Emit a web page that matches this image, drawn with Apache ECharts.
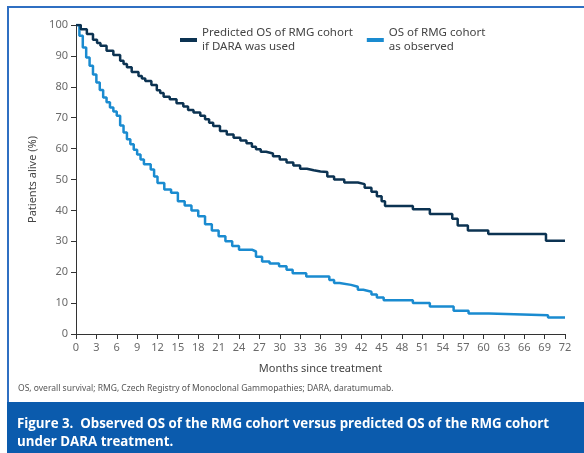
<!DOCTYPE html>
<html>
<head>
<meta charset="utf-8">
<script src="https://cdn.jsdelivr.net/npm/echarts@6/dist/echarts.min.js"></script>
<style>
  html, body { margin: 0; padding: 0; background: #fff; }
  #chart { width: 584px; height: 453px; }
</style>
</head>
<body>
<div id="chart"></div>
<script>
// Survival curves: [month, % alive after the event at that month]
const predictedOS = [
  [0, 100], [0.7, 98.6], [1.6, 97.1], [2.5, 95.2], [3.1, 94.2], [3.6, 93.3],
  [4.5, 91.7], [5.5, 90.3], [6.5, 88.4], [7.0, 87.4], [7.5, 86.3], [8.2, 84.8],
  [9.2, 83.5], [9.7, 82.7], [10.2, 81.9], [11.1, 80.6], [11.9, 78.9], [12.4, 78.0],
  [12.9, 76.8], [13.8, 76.0], [14.8, 74.7], [15.8, 73.6], [16.5, 72.5],
  [17.3, 71.7], [18.3, 70.6], [19.0, 69.5], [19.6, 68.4], [20.2, 67.3],
  [21.2, 65.7], [22.2, 64.6], [23.2, 63.5], [24.2, 62.6], [25.1, 61.7],
  [25.9, 60.6], [26.5, 59.8], [27.2, 59.0], [28.0, 58.4], [29.0, 57.5],
  [30, 56.5], [31, 55.5], [32, 54.5], [33, 53.5], [34, 53.0], [35, 52.6],
  [36, 52.4], [37, 51.0], [38, 50.0], [39.5, 49.0], [41.5, 48.5], [42.5, 47.3],
  [43.5, 46.0], [44.3, 44.6], [45, 43.0], [45.5, 41.4], [49.6, 40.4],
  [52.1, 38.8], [55.4, 37.3], [56.2, 35.1], [57.7, 33.5], [60.7, 32.4],
  [69.2, 30.2], [72, 30.2]
];
const observedOS = [
  [0, 100], [0.5, 96.5], [1, 92.7], [1.5, 89.5], [2, 86.8], [2.5, 84.0],
  [3, 81.4], [3.5, 79.0], [4, 76.5], [4.5, 75.0], [5, 73.3], [5.5, 72.0],
  [6, 70.6], [6.5, 67.5], [7, 65.2], [7.5, 63.0], [8, 61.4], [8.5, 59.6],
  [9, 58.1], [9.5, 56.5], [10, 54.9], [11, 53.2], [11.5, 51.0], [12, 48.9],
  [13, 46.8], [14, 45.7], [15, 43.0], [16, 41.6], [17, 40.0], [18, 38.1],
  [19, 35.5], [20, 33.5], [21, 31.6], [22, 30.0], [23, 28.5], [24, 27.3],
  [25.9, 26.7], [26.5, 25.0], [27.4, 23.5], [28.5, 22.8], [29.9, 21.9],
  [31, 20.8], [31.9, 19.7], [33.9, 18.6], [37.3, 17.5], [38, 16.5],
  [38.8, 15.9], [40.5, 15.3], [41.5, 14.3], [42.3, 13.7], [43.5, 12.8],
  [44.3, 11.8], [45.3, 10.9], [49.6, 10.0], [52.1, 8.9], [55.6, 7.5],
  [57.8, 6.6], [60.8, 6.1], [69.5, 5.3], [72, 5.3]
];
const seriesNames = ['Predicted OS of RMG cohort\nif DARA was used', 'OS of RMG cohort\nas observed'];
const xAxisTitle = 'Months since treatment';
const yAxisTitle = 'Patients alive (%)';
const footnote = 'OS, overall survival; RMG, Czech Registry of Monoclonal Gammopathies; DARA, daratumumab.';
const caption = 'Figure 3.  Observed OS of the RMG cohort versus predicted OS of the RMG cohort\nunder DARA treatment.';

const FONT = '"Noto Sans", sans-serif';
const DARK = '#0c3352';
const BLUE = '#1a8bd0';
const FRAME = '#2f6fc2';
const BAND = '#0b5bad';

const chart = echarts.init(document.getElementById('chart'), null, { renderer: 'canvas' });

const option = {
  animation: false,
  backgroundColor: '#fff',
  textStyle: { fontFamily: FONT },
  grid: { left: 76, top: 25, right: 19, bottom: 119, containLabel: false },
  legend: {
    left: 175,
    top: 14,
    itemWidth: 17,
    itemHeight: 4,
    itemGap: 14,
    itemTextGap: 4,
    icon: 'rect',
    textStyle: {
      fontFamily: FONT, fontSize: 11.5, color: '#444', lineHeight: 14,
      padding: [14, 0, 0, 0]
    },
    data: seriesNames
  },
  xAxis: {
    type: 'value', min: 0, max: 72, interval: 3,
    name: xAxisTitle, nameLocation: 'middle', nameGap: 29,
    nameTextStyle: { fontFamily: FONT, fontSize: 11, color: '#444' },
    axisLine: { lineStyle: { color: '#333', width: 1 } },
    axisTick: { length: 5, lineStyle: { color: '#333' } },
    axisLabel: { fontFamily: FONT, fontSize: 11, color: '#6a6a6a', margin: 8 },
    splitLine: { show: false }
  },
  yAxis: {
    type: 'value', min: 0, max: 100, interval: 10,
    name: yAxisTitle, nameLocation: 'middle', nameGap: 38, nameRotate: 90,
    nameTextStyle: { fontFamily: FONT, fontSize: 11, color: '#444' },
    axisLine: { show: true, lineStyle: { color: '#333', width: 1 } },
    axisTick: { show: true, length: 5, lineStyle: { color: '#333' } },
    axisLabel: { fontFamily: FONT, fontSize: 11, color: '#6a6a6a', margin: 8 },
    splitLine: { show: false }
  },
  series: [
    {
      name: seriesNames[0], type: 'line', step: 'end', data: predictedOS,
      showSymbol: false, symbol: 'none', z: 3,
      lineStyle: { color: DARK, width: 2.5 }, itemStyle: { color: DARK }
    },
    {
      name: seriesNames[1], type: 'line', step: 'end', data: observedOS,
      showSymbol: false, symbol: 'none', z: 2,
      lineStyle: { color: BLUE, width: 2.5 }, itemStyle: { color: BLUE }
    }
  ],
  graphic: [
    { type: 'rect', shape: { x: 8, y: 7, width: 620, height: 420 },
      style: { fill: null, stroke: FRAME, lineWidth: 2 }, silent: true, z: -1 },
    { type: 'text', x: 18, y: 389,
      style: { text: footnote, font: '8.5px ' + FONT, fill: '#555', verticalAlign: 'middle' } },
    { type: 'rect', shape: { x: 7, y: 402, width: 600, height: 60 },
      style: { fill: BAND }, silent: true },
    { type: 'text', x: 17, y: 415,
      style: { text: caption, font: 'bold 13.3px "Open Sans", sans-serif', fill: '#fff', lineHeight: 18, verticalAlign: 'top' } }
  ]
};

chart.setOption(option);
</script>
</body>
</html>
